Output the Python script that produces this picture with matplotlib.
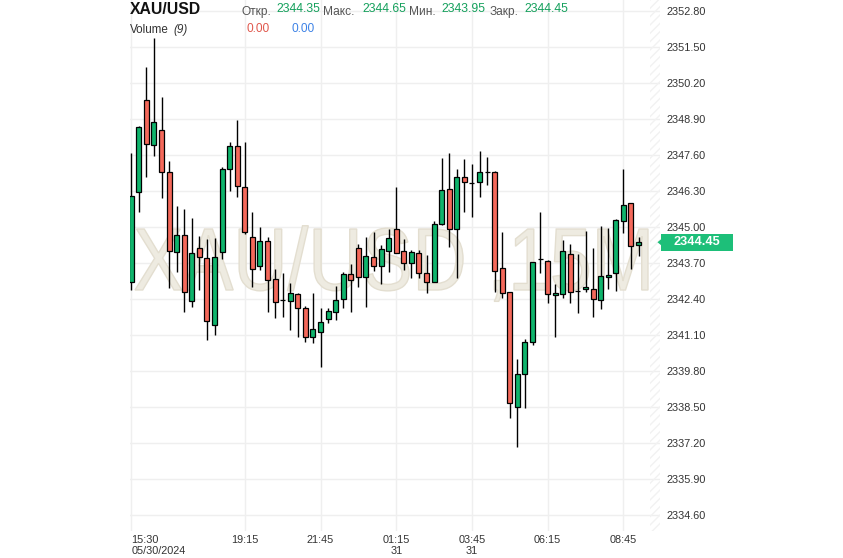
import matplotlib
matplotlib.use("Agg")
import matplotlib.pyplot as plt
from matplotlib.patches import Rectangle, PathPatch, Polygon
from matplotlib.textpath import TextPath
from matplotlib.font_manager import FontProperties
from matplotlib.transforms import Affine2D, blended_transform_factory

# ---------------- data ----------------
opens = [2343.02, 2346.25, 2349.58, 2347.96, 2348.49, 2346.98, 2344.11, 2344.70, 2342.34, 2344.23,
         2343.87, 2341.46, 2344.09, 2347.08, 2347.91, 2346.43, 2344.65, 2343.58, 2344.48, 2343.11,
         2342.35, 2342.34, 2342.57, 2342.06, 2341.04, 2341.22, 2341.67, 2341.94, 2342.39, 2343.29,
         2344.23, 2343.21, 2343.92, 2343.60, 2344.14, 2344.93, 2344.14, 2343.69, 2344.05, 2343.33,
         2343.00, 2345.10, 2346.37, 2344.92, 2346.82, 2346.60, 2346.61, 2347.00, 2347.00, 2343.51,
         2342.64, 2338.49, 2339.68, 2340.86, 2343.83, 2343.76, 2342.53, 2342.59, 2344.01, 2342.70,
         2342.75, 2342.75, 2342.35, 2343.18, 2343.33, 2345.21, 2345.86, 2344.35]
closes = [2346.13, 2348.60, 2347.99, 2348.78, 2346.99, 2344.14, 2344.70, 2342.66, 2344.07, 2343.91,
          2341.60, 2343.91, 2347.08, 2347.91, 2346.47, 2344.83, 2343.47, 2344.48, 2343.09, 2342.30,
          2342.35, 2342.61, 2342.06, 2341.04, 2341.30, 2341.56, 2341.97, 2342.35, 2343.29, 2343.07,
          2343.21, 2343.94, 2343.58, 2344.21, 2344.59, 2344.07, 2343.69, 2344.09, 2343.33, 2343.00,
          2345.10, 2346.34, 2344.92, 2346.82, 2346.61, 2346.60, 2347.00, 2347.00, 2343.41, 2342.61,
          2338.63, 2339.68, 2340.84, 2343.72, 2343.83, 2342.57, 2342.62, 2344.12, 2342.66, 2342.70,
          2342.83, 2342.39, 2343.22, 2343.26, 2345.24, 2345.78, 2344.30, 2344.45]
highs = [2347.66, 2348.65, 2350.79, 2351.81, 2349.69, 2347.39, 2345.77, 2345.65, 2345.31, 2344.69,
         2344.57, 2344.61, 2347.18, 2348.08, 2348.86, 2348.08, 2345.55, 2344.99, 2344.63, 2343.47,
         2343.33, 2342.97, 2342.62, 2342.15, 2342.61, 2342.09, 2342.08, 2342.87, 2343.39, 2343.65,
         2344.39, 2344.63, 2344.81, 2344.35, 2344.92, 2346.46, 2344.57, 2344.17, 2344.18, 2343.99,
         2345.22, 2347.48, 2347.66, 2347.08, 2347.46, 2347.27, 2347.76, 2347.52, 2347.02, 2344.81,
         2342.66, 2340.22, 2340.94, 2343.74, 2345.53, 2343.80, 2342.93, 2344.53, 2344.37, 2344.01,
         2344.86, 2344.23, 2345.05, 2344.95, 2345.29, 2347.08, 2345.88, 2344.65]
lows = [2342.72, 2345.53, 2346.82, 2347.57, 2346.04, 2342.79, 2343.39, 2341.94, 2342.12, 2342.72,
        2340.92, 2341.10, 2343.83, 2346.31, 2346.07, 2344.75, 2342.84, 2343.45, 2341.94, 2341.70,
        2341.76, 2341.28, 2341.04, 2340.86, 2340.80, 2339.93, 2341.54, 2341.64, 2342.06, 2341.94,
        2342.82, 2342.12, 2343.42, 2342.93, 2343.39, 2344.05, 2343.43, 2343.17, 2343.15, 2342.61,
        2343.00, 2345.08, 2344.29, 2343.17, 2345.55, 2345.37, 2346.09, 2346.52, 2342.66, 2342.42,
        2338.09, 2337.04, 2338.45, 2340.74, 2343.33, 2342.24, 2341.04, 2342.42, 2342.27, 2341.88,
        2342.66, 2341.76, 2342.03, 2342.75, 2342.70, 2344.77, 2343.49, 2343.95]

xtick_pos = [0, 15, 25, 35, 45, 55, 65]
xtick_labels = ["15:30\n05/30/2024", "19:15", "21:45", "01:15\n31", "03:45\n31", "06:15", "08:45"]
ytick_values = [2334.60, 2335.90, 2337.20, 2338.50, 2339.80, 2341.10, 2342.40, 2343.70,
                2345.00, 2346.30, 2347.60, 2348.90, 2350.20, 2351.50, 2352.80]

symbol = "XAU/USD"
watermark = "XAU/USD ,15M"
ohlc_names = ["Откр.", "Макс.", "Мин.", "Закр."]
ohlc_values = ["2344.35", "2344.65", "2343.95", "2344.45"]
last_price = 2344.45

# ---------------- styling ----------------
W, H = 843, 558
GREEN = "#0fb46c"
RED = "#f4695b"
GRID = "#efefef"
FONT = "Liberation Sans"
plt.rcParams["font.family"] = [FONT, "DejaVu Sans"]

fig = plt.figure(figsize=(W / 100, H / 100), dpi=100)
fig.patch.set_facecolor("white")

def fx(px):
    return px / W

def fy(py):
    return 1 - py / H

ax_left, ax_right, ax_top, ax_bottom = 130, 660, 0, 531
ax = fig.add_axes([fx(ax_left), fy(ax_bottom), (ax_right - ax_left) / W, (ax_bottom - ax_top) / H])
ax.set_facecolor("white")
ax.set_xlim(-0.17, 69.84)
ax.set_ylim(2334.02, 2353.20)
for s in ax.spines.values():
    s.set_visible(False)

# grid
for v in ytick_values:
    ax.axhline(v, color=GRID, lw=1, zorder=0)
for p in xtick_pos:
    ax.axvline(p, color=GRID, lw=1, zorder=0)

# hatched "future" area
ax.axvspan(68.5, 69.84, facecolor="none", edgecolor="#f2f2f2", hatch="////", lw=0, zorder=0)

# watermark (TextPath scaled to the reference box), behind the candles
fp = FontProperties(family=FONT)
tp = TextPath((0, 0), watermark, size=1, prop=fp)
cap = TextPath((0, 0), "X", size=1, prop=fp).get_extents()
ext = tp.get_extents()
x0p, x1p, top_p, base_p = 135, 648, 229, 290
sx = (x1p - x0p) / ext.width
sy = (base_p - top_p) / cap.height
tr = Affine2D().translate(-ext.x0, 0).scale(sx / W, sy / H).translate(fx(x0p), fy(base_p)) + fig.transFigure
wm = PathPatch(tp, transform=tr, facecolor="#eeebe1", edgecolor="#e3ded0", lw=1.0, zorder=0.5,
               clip_on=False)
ax.add_artist(wm)

# candles
bw = 0.66
for i in range(len(opens)):
    o, c, h, l = opens[i], closes[i], highs[i], lows[i]
    col = GREEN if c >= o else RED
    ax.vlines(i, l, h, color="black", lw=1.0, zorder=2)
    lo, hi = min(o, c), max(o, c)
    ax.add_patch(Rectangle((i - bw / 2, lo), bw, hi - lo, facecolor=col, edgecolor="black",
                           lw=0.9, zorder=3))

# y tick labels on the right
ax.yaxis.tick_right()
ax.set_yticks(ytick_values)
ax.set_yticklabels([f"{v:.2f}" for v in ytick_values], fontsize=7.8, color="#333333")
ax.tick_params(axis="y", length=0, pad=4.5)

# x tick labels
ax.set_xticks(xtick_pos)
ax.set_xticklabels(xtick_labels, fontsize=7.8, color="#333333", linespacing=1.05)
ax.tick_params(axis="x", length=0, pad=3)
ax.get_xticklabels()[0].set_horizontalalignment("left")

# last price box
bt = blended_transform_factory(fig.transFigure, ax.transData)
box_h = 17 / 27.69
ax.add_patch(Rectangle((fx(661), last_price - box_h / 2), fx(733) - fx(661), box_h, transform=bt,
                       facecolor="#1dbf79", edgecolor="none", clip_on=False, zorder=5))
ax.add_patch(Polygon([(fx(657.5), last_price), (fx(661.5), last_price + 0.12), (fx(661.5), last_price - 0.12)],
                     closed=True, transform=bt, facecolor="#1dbf79", edgecolor="none", clip_on=False, zorder=5))
ax.text(fx(697), last_price, f"{last_price:.2f}", transform=bt, ha="center", va="center",
        color="white", fontsize=9.2, fontweight="bold", zorder=6, clip_on=False)

# header
fig.text(fx(130), fy(14), symbol, fontsize=11.3, fontweight="bold", color="#111111", va="baseline")
name_x = [241.7, 323.3, 408.7, 489.3]
val_x = [276.7, 362.7, 441.7, 524.0]
for nx, n, vx, v in zip(name_x, ohlc_names, val_x, ohlc_values):
    fig.text(fx(nx), fy(15), n, fontsize=8.6, color="#555555", va="baseline")
    fig.text(fx(vx), fy(12), v, fontsize=8.8, color="#14a05c", va="baseline")
fig.text(fx(130), fy(33), "Volume", fontsize=8.4, color="#333333", va="baseline")
fig.text(fx(173), fy(33), "(9)", fontsize=8.4, color="#333333", style="italic", va="baseline")
fig.text(fx(246.7), fy(32.5), "0.00", fontsize=8.6, color="#e0574c", va="baseline")
fig.text(fx(291.7), fy(32.5), "0.00", fontsize=8.6, color="#3d82e6", va="baseline")

fig.savefig("out.png", dpi=100)
